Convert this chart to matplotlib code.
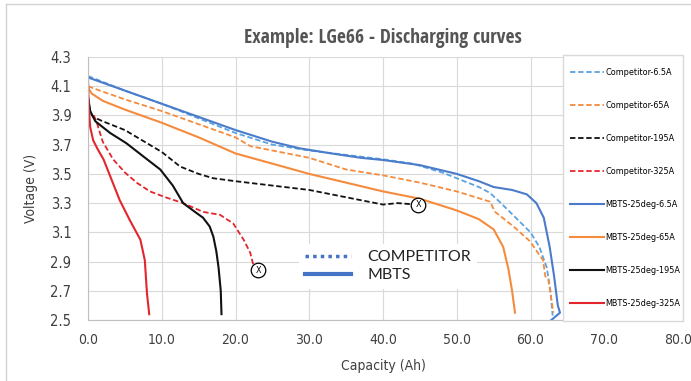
import matplotlib
matplotlib.use('Agg')
import matplotlib.pyplot as plt
from matplotlib.lines import Line2D
from matplotlib.patches import Rectangle

plt.rcParams['font.family'] = ['DejaVu Sans']
plt.rcParams['font.stretch'] = 'condensed'

# discharge curves (capacity Ah, voltage V)
comp_6_5_x = [0, 5, 10, 15, 20, 25, 30, 35, 40, 44, 48, 51, 53, 54.5, 56, 58, 60, 61.2, 62.2, 62.7, 63.0]
comp_6_5_v = [4.17, 4.07, 3.98, 3.88, 3.78, 3.70, 3.66, 3.63, 3.60, 3.57, 3.51, 3.45, 3.41, 3.37, 3.30, 3.20, 3.10, 3.00, 2.86, 2.70, 2.53]

comp_65_x = [0, 1.6, 5, 10, 15, 20, 22, 25, 30, 35, 40, 45, 50, 54.5, 55.2, 57.7, 59.9, 61.7, 62.0, 62.4, 62.6, 63.1]
comp_65_v = [4.10, 4.07, 4.01, 3.93, 3.84, 3.75, 3.69, 3.66, 3.61, 3.53, 3.49, 3.44, 3.38, 3.31, 3.24, 3.14, 3.04, 2.91, 2.80, 2.78, 2.72, 2.55]

comp_195_x = [0, 0.3, 0.7, 2, 5, 8, 10, 12.5, 15, 17, 20, 25, 30, 35, 38, 40, 42, 44.5]
comp_195_v = [4.02, 3.92, 3.89, 3.86, 3.80, 3.71, 3.65, 3.55, 3.50, 3.47, 3.45, 3.42, 3.39, 3.34, 3.31, 3.29, 3.30, 3.29]

comp_325_x = [0.8, 1.2, 2, 3.4, 5, 6.6, 8.4, 10.5, 12.9, 15.6, 17.9, 19.7, 21.1, 22.0, 22.4]
comp_325_v = [3.90, 3.85, 3.72, 3.60, 3.51, 3.44, 3.38, 3.34, 3.30, 3.24, 3.22, 3.16, 3.05, 2.96, 2.88]

mbts_6_5_x = [0, 5, 10, 15, 20, 25, 28.7, 33, 37, 40, 45, 50, 53, 55, 57.5, 59.5, 60.8, 61.8, 62.6, 63.2, 63.7, 64.0, 62.6]
mbts_6_5_v = [4.16, 4.07, 3.98, 3.89, 3.80, 3.72, 3.675, 3.64, 3.61, 3.595, 3.56, 3.50, 3.45, 3.41, 3.39, 3.36, 3.30, 3.20, 3.00, 2.80, 2.60, 2.55, 2.49]

mbts_65_x = [0, 0.5, 2, 5, 10, 15, 20, 25, 30, 35, 40, 45, 50, 53, 55, 56.3, 57.0, 57.5, 57.9]
mbts_65_v = [4.09, 4.05, 4.00, 3.94, 3.85, 3.75, 3.64, 3.57, 3.50, 3.44, 3.38, 3.33, 3.25, 3.19, 3.12, 3.00, 2.85, 2.70, 2.55]

mbts_195_x = [0, 0.3, 1, 3, 5.2, 8, 9.8, 11.5, 12.9, 14.5, 15.6, 16.5, 17.0, 17.4, 17.7, 18.0, 18.1]
mbts_195_v = [4.03, 3.93, 3.86, 3.78, 3.71, 3.60, 3.53, 3.42, 3.30, 3.24, 3.20, 3.14, 3.07, 2.97, 2.86, 2.70, 2.54]

mbts_325_x = [0, 0.1, 0.3, 0.7, 1.3, 2.1, 3.2, 4.3, 5.7, 7.1, 7.7, 8.0, 8.3]
mbts_325_v = [4.15, 3.95, 3.82, 3.73, 3.67, 3.60, 3.46, 3.32, 3.18, 3.05, 2.91, 2.68, 2.54]

# end-of-test marks for the competitor cells
end_x = [23.1, 44.8]
end_v = [2.84, 3.29]

x_ticks = [0, 10, 20, 30, 40, 50, 60, 70, 80]
y_ticks = [2.5, 2.7, 2.9, 3.1, 3.3, 3.5, 3.7, 3.9, 4.1, 4.3]

c_lblue = '#5BA3E0'
c_blue = '#4A7CCB'
c_orange = '#F58B3C'
c_black = '#111111'
c_red = '#E3262D'

series = [
    (comp_6_5_x, comp_6_5_v, c_lblue, '--', 'Competitor-6.5A'),
    (comp_65_x, comp_65_v, c_orange, '--', 'Competitor-65A'),
    (comp_195_x, comp_195_v, c_black, '--', 'Competitor-195A'),
    (comp_325_x, comp_325_v, c_red, '--', 'Competitor-325A'),
    (mbts_6_5_x, mbts_6_5_v, c_blue, '-', 'MBTS-25deg-6.5A'),
    (mbts_65_x, mbts_65_v, c_orange, '-', 'MBTS-25deg-65A'),
    (mbts_195_x, mbts_195_v, c_black, '-', 'MBTS-25deg-195A'),
    (mbts_325_x, mbts_325_v, c_red, '-', 'MBTS-25deg-325A'),
]

fig = plt.figure(figsize=(6.91, 3.81), dpi=100)
ax = fig.add_axes([88 / 691, 61 / 381, 590 / 691, 263 / 381])

# chart border
fig.add_artist(Line2D([6 / 691, 6 / 691], [0, 1 - 4 / 381], color='#d4d4d4', lw=1))
fig.add_artist(Line2D([6 / 691, 1], [1 - 4 / 381, 1 - 4 / 381], color='#d4d4d4', lw=1))

handles = []
for xs, vs, col, ls, lab in series:
    if ls == '--':
        h, = ax.plot(xs, vs, color=col, ls=(0, (3, 1.5)), lw=1.3, label=lab)
    else:
        h, = ax.plot(xs, vs, color=col, ls='-', lw=1.5, label=lab)
    handles.append(h)

ax.scatter(end_x, end_v, s=110, facecolor='white', edgecolor='black', lw=0.9, zorder=5)
for x, v in zip(end_x, end_v):
    ax.text(x, v, 'X', ha='center', va='center', fontsize=6.5, zorder=6)

ax.set_xlim(0, 80)
ax.set_ylim(2.5, 4.3)
ax.set_xticks(x_ticks)
ax.set_yticks(y_ticks)
ax.set_xticklabels(['%.1f' % t for t in x_ticks])
ax.set_yticklabels(['%.1f' % t for t in y_ticks])
ax.tick_params(axis='x', length=0, labelsize=10, labelcolor='#404040', pad=9)
ax.tick_params(axis='y', length=0, labelsize=10.5, labelcolor='#404040', pad=12)
ax.grid(True, color='#d9d9d9', lw=0.8)
ax.set_axisbelow(True)
for s in ['top', 'right']:
    ax.spines[s].set_visible(False)
for s in ['left', 'bottom']:
    ax.spines[s].set_color('#bfbfbf')

ax.set_title('Example: LGe66 - Discharging curves', fontsize=14, fontweight='bold',
             color='#555555', pad=10, family=['Open Sans Condensed', 'DejaVu Sans'])
ax.set_xlabel('Capacity (Ah)', fontsize=10, color='#404040', labelpad=9)
ax.set_ylabel('Voltage (V)', fontsize=10, color='#404040', labelpad=9)

# right legend box
box = Rectangle((0.805, -0.005), 0.2035, 1.012, transform=ax.transAxes, facecolor='white',
                edgecolor='#d9d9d9', lw=1, zorder=9, clip_on=False)
ax.add_patch(box)
leg = ax.legend(handles=handles, loc='upper left', bbox_to_anchor=(0.81, 0.972),
                frameon=False, fontsize=6.5, labelspacing=2.66, handlelength=3.8,
                handletextpad=0.15, borderaxespad=0)
leg.set_zorder(10)
ax.add_artist(leg)

# inner legend
inner = [Line2D([], [], color='#4472C4', lw=2.5, ls=(0, (1, 1.2))),
         Line2D([], [], color='#4472C4', lw=3, ls='-')]
leg2 = ax.legend(handles=inner, labels=['COMPETITOR', 'MBTS'], loc='upper left',
                 bbox_to_anchor=(0.357, 0.29), frameon=True,
                 labelspacing=0.25, handlelength=2.9, handletextpad=1.0, borderaxespad=0,
                 prop={'family': ['Lato', 'DejaVu Sans'], 'size': 11.5, 'stretch': 'normal'})
leg2.get_frame().set_facecolor('white')
leg2.get_frame().set_edgecolor('none')
leg2.get_frame().set_alpha(1)
for t in leg2.get_texts():
    t.set_color('#222222')

fig.savefig('out.png', dpi=100)
